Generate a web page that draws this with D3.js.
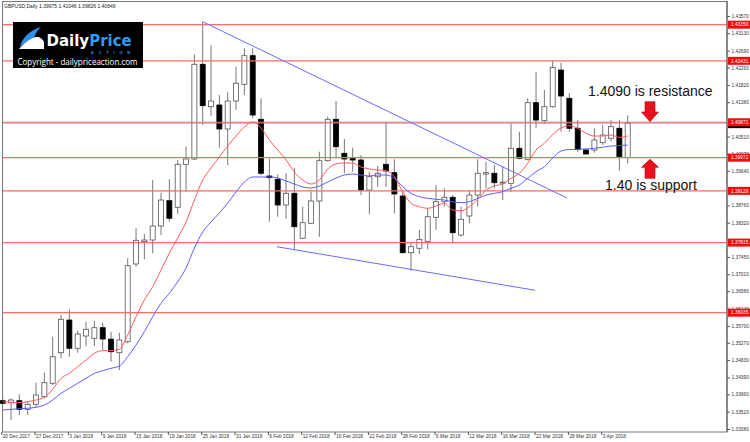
<!DOCTYPE html>
<html>
<head>
<meta charset="utf-8">
<script src="https://cdn.jsdelivr.net/npm/d3@7"></script>
<style>
body { margin: 0; background: #fff; }
svg { display: block; font-family: "Liberation Sans", Arial, sans-serif; }
</style>
</head>
<body>
<svg id="chart" width="750" height="442"></svg>
<script>

// GBPUSD daily, 20 Dec 2017 -> 6 Apr 2018
var opens = [1.33799, 1.33748, 1.33799, 1.33580, 1.33707, 1.33900, 1.34241, 1.35018, 1.35848, 1.35130,
    1.35442, 1.35384, 1.35653, 1.35362, 1.35018, 1.35297, 1.37271, 1.37837, 1.37880, 1.38236,
    1.38879, 1.38711, 1.39803, 1.39938, 1.42343, 1.41266, 1.41309, 1.40700, 1.41411, 1.41835,
    1.42562, 1.40946, 1.39506, 1.39422, 1.38769, 1.39067, 1.37924, 1.38305, 1.38871, 1.39895,
    1.40946, 1.40083, 1.39956, 1.39912, 1.39150, 1.39488, 1.39803, 1.39590, 1.38998, 1.37558,
    1.37670, 1.37837, 1.38457, 1.38853, 1.38965, 1.38007, 1.38490, 1.39023, 1.39557, 1.39575,
    1.39336, 1.39321, 1.40210, 1.39930, 1.41368, 1.40911, 1.41266, 1.42198, 1.41480, 1.40718,
    1.40166, 1.40166, 1.40352, 1.40464, 1.40718, 1.39975];
var highs = [1.33943, 1.33860, 1.33961, 1.33773, 1.34256, 1.34510, 1.35424, 1.35975, 1.36120, 1.35577,
    1.35805, 1.35823, 1.35780, 1.35551, 1.35526, 1.37416, 1.38178, 1.38033, 1.39404, 1.39082,
    1.39422, 1.39912, 1.40250, 1.42597, 1.43425, 1.42833, 1.41563, 1.41632, 1.42282, 1.42750,
    1.42750, 1.41480, 1.39956, 1.39549, 1.39575, 1.39717, 1.38726, 1.39107, 1.40123, 1.41012,
    1.41411, 1.40446, 1.40225, 1.40039, 1.39615, 1.39760, 1.40885, 1.39930, 1.39107, 1.37812,
    1.38134, 1.38686, 1.39277, 1.39194, 1.39023, 1.38726, 1.39150, 1.39930, 1.39869, 1.39785,
    1.39760, 1.40845, 1.40631, 1.41480, 1.42155, 1.41690, 1.42431, 1.42380, 1.41607, 1.40928,
    1.40210, 1.40718, 1.40801, 1.40928, 1.40928, 1.41046];
var lows = [1.33689, 1.33308, 1.33435, 1.33435, 1.33646, 1.33860, 1.34197, 1.34876, 1.34916, 1.35018,
    1.35188, 1.35188, 1.35086, 1.34789, 1.34578, 1.35257, 1.37202, 1.37390, 1.37543, 1.38007,
    1.38345, 1.38541, 1.39107, 1.39912, 1.40801, 1.41038, 1.40225, 1.39785, 1.41182, 1.41563,
    1.40972, 1.39531, 1.38345, 1.38472, 1.38414, 1.37626, 1.37906, 1.38287, 1.37964, 1.39870,
    1.39956, 1.39575, 1.39615, 1.39023, 1.38533, 1.39234, 1.39234, 1.38559, 1.37537, 1.37101,
    1.37525, 1.37644, 1.38134, 1.38726, 1.37797, 1.37964, 1.38305, 1.38726, 1.39194, 1.39194,
    1.38896, 1.39107, 1.39930, 1.39905, 1.40718, 1.40827, 1.41241, 1.40631, 1.40631, 1.40123,
    1.40057, 1.40098, 1.40293, 1.40378, 1.39641, 1.39826];
var closes = [1.33733, 1.33816, 1.33580, 1.33707, 1.33943, 1.34256, 1.34916, 1.35866, 1.35130, 1.35493,
    1.35612, 1.35653, 1.35366, 1.35043, 1.35340, 1.37228, 1.37873, 1.37880, 1.38236, 1.38896,
    1.38432, 1.39803, 1.39938, 1.42343, 1.41292, 1.41411, 1.40700, 1.41411, 1.41861, 1.42562,
    1.41055, 1.39575, 1.39463, 1.38769, 1.39067, 1.38218, 1.38320, 1.38871, 1.39895, 1.40946,
    1.40250, 1.39938, 1.39912, 1.39150, 1.39488, 1.39575, 1.39633, 1.39049, 1.37558, 1.37710,
    1.37898, 1.38472, 1.38853, 1.38965, 1.38066, 1.38406, 1.39023, 1.39575, 1.39590, 1.39336,
    1.39350, 1.40210, 1.39956, 1.41368, 1.40928, 1.41266, 1.42267, 1.41538, 1.40718, 1.40184,
    1.40065, 1.40420, 1.40547, 1.40758, 1.39996, 1.40849];

// moving averages (red = fast, blue = slow)
var maFast = [1.33773, 1.33758, 1.33748, 1.33773, 1.33816, 1.33885, 1.34088, 1.34368, 1.34495, 1.34662,
    1.34832, 1.35003, 1.35069, 1.35069, 1.35104, 1.35467, 1.35932, 1.36356, 1.36694, 1.37118,
    1.37550, 1.37931, 1.38338, 1.38896, 1.39404, 1.39709, 1.39989, 1.40268, 1.40522, 1.40751,
    1.40878, 1.40725, 1.40420, 1.40166, 1.39912, 1.39608, 1.39404, 1.39303, 1.39404, 1.39684,
    1.39811, 1.39836, 1.39836, 1.39735, 1.39684, 1.39658, 1.39641, 1.39488, 1.39107, 1.38813,
    1.38726, 1.38686, 1.38744, 1.38813, 1.38642, 1.38625, 1.38726, 1.38914, 1.39150, 1.39252,
    1.39303, 1.39448, 1.39575, 1.39829, 1.40166, 1.40337, 1.40560, 1.40725, 1.40784, 1.40718,
    1.40591, 1.40522, 1.40522, 1.40547, 1.40489, 1.40522];
var maSlow = [1.33562, 1.33580, 1.33595, 1.33606, 1.33631, 1.33689, 1.33816, 1.33987, 1.34114, 1.34241,
    1.34368, 1.34495, 1.34561, 1.34622, 1.34680, 1.34916, 1.35213, 1.35551, 1.35932, 1.36273,
    1.36527, 1.36821, 1.37169, 1.37677, 1.38084, 1.38338, 1.38566, 1.38820, 1.39100, 1.39354,
    1.39481, 1.39481, 1.39481, 1.39455, 1.39379, 1.39303, 1.39227, 1.39201, 1.39252, 1.39354,
    1.39455, 1.39531, 1.39557, 1.39531, 1.39506, 1.39531, 1.39531, 1.39448, 1.39234, 1.39066,
    1.38980, 1.38939, 1.38914, 1.38896, 1.38853, 1.38828, 1.38853, 1.38939, 1.39023, 1.39066,
    1.39107, 1.39194, 1.39277, 1.39448, 1.39615, 1.39742, 1.39963, 1.40141, 1.40179, 1.40184,
    1.40192, 1.40210, 1.40235, 1.40268, 1.40276, 1.40293];

var dateLabels = ["20 Dec 2017", "27 Dec 2017", "3 Jan 2018", "9 Jan 2018", "15 Jan 2018", "19 Jan 2018",
    "25 Jan 2018", "31 Jan 2018", "6 Feb 2018", "12 Feb 2018", "16 Feb 2018", "22 Feb 2018",
    "28 Feb 2018", "6 Mar 2018", "12 Mar 2018", "16 Mar 2018", "22 Mar 2018", "28 Mar 2018", "3 Apr 2018"];
// tick labels that are not hidden behind a level label
var priceTicks = ["1.43570", "1.43130", "1.42690", "1.42260", "1.41820", "1.41380", "1.40510",
    "1.40070", "1.39640", "1.38760", "1.38320", "1.37450", "1.37010", "1.36580",
    "1.36140", "1.35700", "1.35270", "1.34830", "1.34390", "1.33960", "1.33520", "1.33080"];

var levels = [1.43350, 1.42431, 1.40871, 1.39972, 1.39129, 1.37815, 1.36035];
var bidPrice = 1.40849;
// trend lines as [bar index, price]
var resistanceLine = [[24, 1.43425], [67.7, 1.38949]];
var supportLine = [[32.9, 1.37710], [63.9, 1.36603]];


var svg = d3.select("#chart");
var x = d3.scaleLinear().domain([0, 75]).range([2.7, 627.7]);
var y = d3.scaleLinear().domain([1.33080, 1.43570]).range([429, 16]);

var bars = opens.map(function (o, i) {
    return { i: i, o: o, h: highs[i], l: lows[i], c: closes[i] };
});

// frame
svg.append("rect")
    .attr("x", 2.5).attr("y", 1.5)
    .attr("width", 724.5).attr("height", 430.5)
    .attr("fill", "none").attr("stroke", "#777");

// header
svg.append("text")
    .attr("x", 4).attr("y", 8)
    .attr("font-size", 5).attr("fill", "#222")
    .text("GBPUSD,Daily  1.39975 1.41046 1.39826 1.40849");

// candles
var candle = svg.append("g").selectAll("g")
    .data(bars).enter().append("g");
candle.append("line")
    .attr("x1", function (d) { return x(d.i); })
    .attr("x2", function (d) { return x(d.i); })
    .attr("y1", function (d) { return y(d.h); })
    .attr("y2", function (d) { return y(d.l); })
    .attr("stroke", "#777").attr("stroke-width", 1);
candle.append("rect")
    .attr("x", function (d) { return x(d.i) - 2.5; })
    .attr("width", 5)
    .attr("y", function (d) { return y(Math.max(d.o, d.c)); })
    .attr("height", function (d) { return Math.max(1, Math.abs(y(d.o) - y(d.c))); })
    .attr("fill", function (d) { return d.c >= d.o ? "#fff" : "#000"; })
    .attr("stroke", function (d) { return d.c >= d.o ? "#555" : "#000"; })
    .attr("stroke-width", 0.8);

// bid line + horizontal levels
svg.append("line")
    .attr("x1", 3).attr("x2", 727)
    .attr("y1", y(bidPrice)).attr("y2", y(bidPrice))
    .attr("stroke", "#888").attr("stroke-width", 0.8);
svg.append("g").selectAll("line")
    .data(levels).enter().append("line")
    .attr("x1", 3).attr("x2", 727)
    .attr("y1", function (d) { return y(d); })
    .attr("y2", function (d) { return y(d); })
    .attr("stroke", "#ff6a6a").attr("stroke-width", 1.2);

// moving averages
var maLine = d3.line()
    .x(function (d, i) { return x(i); })
    .y(function (d) { return y(d); })
    .curve(d3.curveMonotoneX);
svg.append("path").datum(maFast)
    .attr("d", maLine).attr("fill", "none")
    .attr("stroke", "#ff5a5a").attr("stroke-width", 1);
svg.append("path").datum(maSlow)
    .attr("d", maLine).attr("fill", "none")
    .attr("stroke", "#5c5cff").attr("stroke-width", 1);

// trend lines
var tLine = d3.line()
    .x(function (d) { return x(d[0]); })
    .y(function (d) { return y(d[1]); });
[resistanceLine, supportLine].forEach(function (t) {
    svg.append("path").datum(t)
        .attr("d", tLine).attr("fill", "none")
        .attr("stroke", "#6a6aff").attr("stroke-width", 1);
});

// price axis
var yAxis = d3.axisRight(y)
    .tickValues(priceTicks.map(Number))
    .tickFormat(function (d, i) { return priceTicks[i]; })
    .tickSize(3).tickSizeOuter(0);
var ya = svg.append("g").attr("transform", "translate(727,0)").call(yAxis);
ya.select(".domain").remove();
ya.selectAll("line").attr("stroke", "#555");
ya.selectAll("text").attr("x", 4.5).attr("font-size", 4.8)
    .attr("font-family", "Liberation Sans, Arial, sans-serif").attr("fill", "#333");
svg.append("line")
    .attr("x1", 727).attr("x2", 727).attr("y1", 1).attr("y2", 432)
    .attr("stroke", "#555");

// level labels on the price axis
var bidBox = svg.append("g").attr("transform", "translate(728," + (y(bidPrice) + 1) + ")");
bidBox.append("rect").attr("y", -4).attr("width", 22).attr("height", 8).attr("fill", "#000");
var lvl = svg.append("g").selectAll("g")
    .data(levels).enter().append("g")
    .attr("transform", function (d) { return "translate(728," + y(d) + ")"; });
lvl.append("rect")
    .attr("y", -4).attr("width", 22).attr("height", 8)
    .attr("fill", "#f20d0d");
lvl.append("text")
    .attr("x", 3).attr("y", 1.8)
    .attr("font-size", 4.8).attr("fill", "#fff")
    .text(function (d) { return d.toFixed(5); });

// date axis
var xAxis = d3.axisBottom(x)
    .tickValues(dateLabels.map(function (d, i) { return i * 4; }))
    .tickFormat(function (d, i) { return dateLabels[i]; })
    .tickSize(3).tickSizeOuter(0);
var xa = svg.append("g").attr("transform", "translate(0,432)").call(xAxis);
xa.select(".domain").remove();
xa.selectAll("line").attr("stroke", "#555").attr("transform", "translate(-1.5,0)");
xa.selectAll("text")
    .attr("text-anchor", "start").attr("x", -0.5).attr("y", 2.2)
    .attr("font-size", 4.8).attr("font-family", "Liberation Sans, Arial, sans-serif")
    .attr("fill", "#333");

// logo
var logo = svg.append("g");
logo.append("rect")
    .attr("x", 13).attr("y", 22).attr("width", 130).attr("height", 46)
    .attr("fill", "#000");
logo.append("path")
    .attr("d", "M20,47 C22,38 30,30 41,27 C36,32 34,36 34,41 C29,41 24,43 20,47 Z")
    .attr("fill", "#2d8ff0");
logo.append("path")
    .attr("d", "M19,49 C25,42 32,37 37,37 C40,37 43,39 44,42 L44,49 Z")
    .attr("fill", "#fff");
var brand = logo.append("text")
    .attr("x", 46.5).attr("y", 46)
    .attr("font-family", "DejaVu Sans, sans-serif").attr("font-weight", "bold")
    .attr("font-size", 15);
brand.append("tspan").attr("fill", "#fff").text("Daily");
brand.append("tspan").attr("fill", "#2d9bf0").text("Price");
logo.append("text")
    .attr("x", 91).attr("y", 53.5)
    .attr("font-size", 3.8).attr("font-weight", "bold").attr("fill", "#2d9bf0")
    .attr("textLength", 39).attr("lengthAdjust", "spacing")
    .text("ACTION");
logo.append("text")
    .attr("x", 17.5).attr("y", 65)
    .attr("font-family", "Open Sans, sans-serif").attr("font-size", 8.5)
    .attr("fill", "#fff")
    .attr("textLength", 120).attr("lengthAdjust", "spacingAndGlyphs")
    .text("Copyright - dailypriceaction.com");

// annotations
svg.append("text")
    .attr("x", 588).attr("y", 96)
    .attr("font-size", 14).attr("fill", "#111")
    .text("1.4090 is resistance");
svg.append("text")
    .attr("x", 605).attr("y", 190)
    .attr("font-size", 14).attr("fill", "#111")
    .text("1.40 is support");
svg.append("polygon")
    .attr("points", "645,101.7 655,101.7 655,112 658.5,112 650,121.7 641.5,112 645,112")
    .attr("fill", "#e8121c").attr("stroke", "#b00").attr("stroke-width", 0.6);
svg.append("polygon")
    .attr("points", "650,159.3 658.5,167.3 655,167.3 655,178.3 645,178.3 645,167.3 641.5,167.3")
    .attr("fill", "#e8121c").attr("stroke", "#b00").attr("stroke-width", 0.6);

</script>
</body>
</html>
